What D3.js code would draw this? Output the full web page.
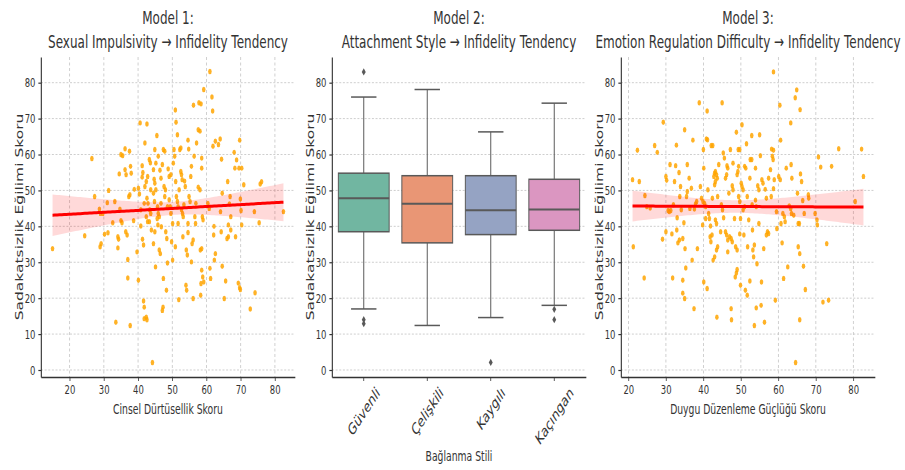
<!DOCTYPE html>
<html>
<head>
<meta charset="utf-8">
<script src="https://cdnjs.cloudflare.com/ajax/libs/d3/7.8.5/d3.min.js"></script>
<style>
	body { margin: 0; background: #fff; }
	text { font-family: 'DejaVu Sans', sans-serif; fill: #333; }
</style>
</head>
<body>
<div id="chart"></div>
<script>
// Model 1: sexual impulsivity score vs infidelity tendency score
const model1Points = [
	[15.0,33.8],[24.4,37.4],[26.5,58.9],[27.3,48.3],[28.7,44.8],[29.0,43.6],[29.2,35.2],[28.9,34.3],[29.7,43.6],[30.2,37.8],
	[31.2,38.2],[31.0,46.6],[31.4,50.0],[32.6,41.0],[33.2,46.9],[33.5,13.3],[34.1,37.1],[34.3,36.4],[34.1,34.0],[34.5,54.6],
	[34.7,44.8],[35.0,60.0],[35.5,59.7],[35.0,41.6],[35.3,41.0],[36.2,61.6],[36.5,54.4],[36.2,55.8],[36.4,38.5],[36.8,37.6],
	[37.0,30.8],[37.0,25.6],[37.3,48.3],[37.6,48.8],[37.5,60.9],[37.7,12.4],[37.8,56.7],[38.0,54.8],[38.7,41.6],[38.9,50.3],
	[39.7,32.9],[40.1,25.0],[40.1,50.6],[40.4,49.0],[40.6,68.8],[40.8,40.1],[41.2,56.9],[41.4,55.0],[41.2,53.7],[41.3,36.4],
	[41.6,34.8],[41.6,19.2],[41.8,17.5],[41.8,14.3],[42.4,14.7],[42.6,14.0],[42.0,63.2],[42.6,68.5],[42.0,51.1],[42.4,52.5],
	[42.8,53.9],[42.6,47.8],[42.9,46.4],[42.4,42.7],[42.8,41.3],[43.3,58.6],[43.6,57.7],[43.4,44.6],[43.7,43.6],[43.9,39.0],
	[44.2,2.1],[44.5,35.2],[44.7,53.1],[44.9,52.0],[45.2,50.2],[44.9,38.5],[45.1,28.7],[44.9,61.4],[45.2,57.6],[45.5,65.3],
	[45.7,45.5],[45.9,43.6],[46.2,42.7],[46.2,33.4],[46.5,32.4],[46.4,55.6],[46.7,53.4],[46.8,39.9],[47.1,16.6],[47.3,17.5],
	[47.4,61.4],[47.8,60.9],[47.4,25.5],[47.6,51.1],[48.0,50.2],[47.8,48.3],[48.1,38.5],[48.4,36.6],[48.3,22.2],[48.6,29.8],
	[48.8,56.0],[49.1,53.9],[49.1,47.4],[49.4,45.5],[49.8,35.7],[50.1,30.6],[50.3,57.6],[50.7,59.5],[50.5,61.4],[50.9,72.4],
	[51.1,69.0],[51.2,48.3],[51.5,46.9],[51.7,45.5],[50.9,34.3],[51.7,40.8],[51.9,19.6],[52.2,61.4],[52.5,61.8],[52.5,55.3],
	[52.7,54.4],[52.9,53.0],[52.7,44.6],[53.0,43.6],[53.2,42.7],[53.1,37.1],[53.6,52.6],[53.8,51.1],[54.0,23.6],[54.2,22.2],
	[54.1,33.4],[54.4,32.0],[54.6,64.0],[54.8,61.5],[54.9,48.3],[55.2,46.9],[55.4,53.9],[55.6,56.7],[55.6,30.1],[55.8,35.2],
	[56.1,36.2],[56.1,19.9],[56.2,73.7],[56.4,59.5],[56.6,42.7],[56.8,40.8],[56.9,46.4],[57.1,63.2],[57.6,66.9],[58.1,66.5],
	[57.6,50.9],[58.1,50.2],[57.8,74.4],[58.4,74.1],[58.2,33.4],[58.6,33.8],[58.4,24.1],[58.3,20.8],[58.6,59.0],[58.6,27.8],
	[58.9,25.9],[58.6,56.2],[58.8,42.7],[59.0,41.8],[59.2,78.1],[59.2,24.5],[60.4,46.4],[60.8,45.0],[61.0,83.1],[61.0,28.3],
	[61.2,25.5],[61.6,76.0],[61.8,72.1],[61.9,62.3],[62.1,37.6],[62.2,40.0],[62.3,30.6],[62.6,32.4],[62.6,63.7],[63.5,62.8],
	[64.0,64.3],[64.1,44.1],[64.3,38.5],[64.4,58.7],[64.6,28.9],[64.6,49.2],[65.2,19.9],[65.6,24.8],[66.0,36.6],[66.4,37.1],
	[66.2,52.5],[66.4,40.4],[66.7,46.2],[66.9,48.3],[67.1,39.0],[67.1,42.7],[68.1,60.6],[68.3,56.2],[68.5,37.1],[68.8,58.5],
	[69.3,24.2],[69.7,22.9],[69.9,22.4],[69.5,56.2],[70.3,56.2],[69.7,64.0],[69.9,47.6],[70.1,44.4],[70.3,40.4],[70.9,51.6],
	[72.8,17.0],[74.0,44.1],[74.2,21.5],[75.4,41.0],[75.7,51.8],[76.1,52.4],[82.5,44.1],[44.5,49.2],[44.8,46.9],[45.6,42.2],
	[45.8,40.4],[43.3,41.3],[43.7,50.2],[46.7,46.4],[49.6,43.6],[50.1,40.8],[48.6,45.5],[53.4,46.0],[54.6,40.8],[52.0,50.2],
	[51.0,52.5],[49.6,54.4],[47.1,57.2],[44.5,55.8],[45.9,59.5],[41.8,46.4],[40.8,44.6],[54.6,38.3],[51.5,65.5]
];

// Model 3: emotion regulation difficulty score vs infidelity tendency score
const model3Points = [
	[21.1,53.0],[21.3,34.3],[22.4,61.2],[22.9,52.5],[24.2,25.6],[24.4,48.6],[24.9,45.5],[25.8,45.1],[27.0,62.5],[27.7,60.6],
	[29.1,36.4],[29.3,69.0],[30.0,53.9],[30.2,52.8],[30.0,38.5],[30.6,44.4],[30.9,44.1],[31.3,44.4],[31.1,57.2],[31.6,37.9],
	[31.8,25.6],[32.0,46.0],[32.3,52.5],[32.6,56.9],[32.8,62.6],[32.9,39.0],[33.0,42.4],[33.2,35.4],[33.6,36.2],[33.5,55.0],
	[33.7,48.3],[33.9,51.1],[34.1,44.6],[34.5,25.0],[34.5,36.6],[34.5,21.4],[35.0,19.9],[34.8,41.0],[35.0,66.9],[35.1,33.8],
	[35.3,28.4],[35.5,48.3],[35.7,49.7],[35.7,57.2],[36.2,53.4],[36.4,45.0],[36.8,50.6],[37.0,30.6],[37.2,64.0],[37.5,17.1],
	[37.6,44.8],[37.9,46.2],[38.2,46.9],[38.4,33.8],[38.9,74.4],[39.2,51.1],[39.5,47.8],[39.9,46.9],[39.8,40.4],[40.0,61.4],
	[40.1,56.2],[40.1,24.5],[40.3,46.4],[40.6,45.5],[40.6,42.2],[40.8,64.3],[41.1,64.1],[41.0,72.1],[41.0,22.7],[41.2,50.2],
	[41.4,43.6],[41.6,42.2],[41.9,40.1],[41.8,37.1],[42.0,35.7],[42.3,37.6],[42.1,62.5],[42.5,62.5],[42.4,47.8],[42.6,30.6],
	[43.0,31.5],[42.8,53.9],[43.0,54.8],[43.2,55.3],[43.5,54.4],[43.7,53.4],[43.0,51.6],[43.2,52.5],[43.2,41.8],[43.5,40.8],
	[43.5,33.4],[43.8,34.3],[43.6,14.7],[43.8,48.3],[44.1,57.2],[44.6,38.5],[44.8,46.0],[45.1,44.6],[45.0,74.4],[45.3,60.4],
	[45.6,59.0],[45.4,42.4],[45.9,38.5],[46.2,37.6],[46.5,36.2],[45.9,53.4],[46.2,54.4],[46.3,56.9],[46.5,56.2],[46.5,32.9],
	[46.8,49.2],[47.0,37.1],[47.4,36.6],[47.7,35.7],[47.2,61.4],[47.4,17.1],[47.5,14.0],[47.7,51.3],[47.9,50.2],[47.9,57.6],
	[48.3,42.2],[48.5,25.9],[48.8,27.0],[49.0,28.0],[48.6,34.3],[49.0,33.4],[48.8,66.2],[49.0,54.4],[49.2,55.3],[49.4,56.7],
	[49.3,61.4],[49.7,61.4],[49.4,48.3],[49.7,46.9],[49.7,37.9],[49.9,42.2],[49.9,23.6],[50.1,52.0],[50.3,51.1],[50.6,50.2],
	[50.3,68.3],[50.6,44.6],[51.0,45.5],[50.8,37.6],[51.0,56.7],[51.3,56.2],[51.2,22.2],[51.7,20.8],[51.5,63.0],[51.7,48.3],
	[51.8,34.3],[52.1,41.8],[52.4,53.4],[52.5,58.6],[52.9,58.6],[52.4,24.8],[52.9,65.3],[53.0,46.0],[53.1,39.0],[53.2,33.4],
	[53.4,31.5],[53.6,34.8],[53.6,12.4],[53.9,47.3],[54.1,45.5],[53.9,56.2],[54.1,17.3],[54.3,29.6],[54.5,51.3],[54.8,50.2],
	[54.8,40.8],[55.0,65.5],[55.2,59.7],[55.4,18.0],[55.5,24.5],[55.6,53.0],[55.9,52.0],[56.1,33.8],[56.3,13.3],[56.5,50.3],
	[56.8,47.8],[56.8,37.6],[57.1,38.5],[57.4,38.0],[57.4,53.4],[57.9,55.8],[58.1,48.3],[58.2,61.5],[58.7,61.2],[58.4,59.5],
	[58.6,58.6],[58.7,83.0],[58.7,50.5],[58.9,53.0],[59.2,19.4],[59.5,44.1],[59.6,39.4],[60.1,53.9],[60.5,53.0],[60.4,73.7],
	[60.6,64.0],[60.7,40.8],[61.0,35.4],[61.2,43.6],[61.6,42.7],[61.4,25.5],[61.8,41.3],[62.1,56.2],[62.5,28.7],[62.9,45.7],
	[63.3,45.0],[63.3,68.8],[63.4,57.2],[63.6,53.4],[63.5,43.6],[64.1,43.1],[64.5,75.8],[64.6,2.1],[64.9,78.0],[65.1,49.2],
	[65.3,40.8],[65.6,40.8],[65.3,34.3],[65.7,32.4],[65.7,14.0],[65.8,72.5],[65.9,54.6],[66.2,52.5],[66.5,47.2],[66.7,28.9],
	[66.9,43.6],[67.2,22.4],[68.0,48.8],[68.1,47.8],[69.8,43.6],[70.3,41.8],[70.4,40.4],[70.7,59.3],[71.3,56.5],[71.9,18.9],
	[72.9,35.2],[73.4,19.4],[74.2,56.7],[76.1,61.6],[80.5,46.9],[82.2,61.5],[82.7,53.9]
];

// Model 2: box plot summaries per attachment style
const styles = ['Güvenli', 'Çelişkili', 'Kaygılı', 'Kaçıngan'];
const styleColors = ['#71b6a1', '#e99675', '#95a3c3', '#db96c1'];
const q1 = [38.5, 35.4, 37.7, 38.9];
const medians = [47.8, 46.3, 44.5, 44.7];
const q3 = [54.8, 54.1, 54.1, 53.1];
const whiskerLow = [17.0, 12.4, 14.6, 18.0];
const whiskerHigh = [76.0, 78.1, 66.3, 74.3];
const outliers = [[83.0, 14.0, 12.9], [], [2.1], [16.9, 14.0]];

const yTicks = [0, 10, 20, 30, 40, 50, 60, 70, 80];
const xTicks = [20, 30, 40, 50, 60, 70, 80];

// the reference is squeezed horizontally, so draw wide and squash
const S = 0.66;
const vx = a => a / S;

const dimensions = {
	width: 905,
	height: 470,
	top: 57,
	bottom: 377,
	panelWidth: 254,
	lefts: [41, 332, 621]
};

const svg = d3.select('#chart')
	.append('svg')
		.attr('width', dimensions.width)
		.attr('height', dimensions.height);

const root = svg.append('g')
	.attr('transform', `scale(${S},1)`);

const allY = model1Points.map(d => d[1])
	.concat(model3Points.map(d => d[1]))
	.concat(whiskerHigh, whiskerLow, outliers.flat());
const yExt = d3.extent(allY);
const yPad = (yExt[1] - yExt[0]) * 0.05;

const yScale = d3.scaleLinear()
	.domain([yExt[0] - yPad, yExt[1] + yPad])
	.range([dimensions.bottom, dimensions.top]);

const styleAxis = g => {
	g.attr('font-family', 'DejaVu Sans')
		.attr('font-size', 12.8)
		.attr('color', '#333');
	g.selectAll('.domain').attr('stroke-width', 1.7);
	g.selectAll('.tick line').attr('stroke-width', 1.2);
	g.selectAll('.tick text').style('fill', '#333');
};

const drawTitle = (left, lines) => {
	const cx = vx(left + dimensions.panelWidth / 2);
	lines.forEach((t, i) => {
		root.append('text')
			.attr('x', cx)
			.attr('y', 24 + i * 24)
			.attr('text-anchor', 'middle')
			.style('font-size', '18.2px')
			.text(t);
	});
};

const drawYLabel = left => {
	root.append('text')
		.attr('transform', `translate(${vx(left - 22)},${(dimensions.top + dimensions.bottom) / 2}) rotate(-90)`)
		.attr('text-anchor', 'middle')
		.attr('dy', '0.35em')
		.style('font-size', '15.5px')
		.text('Sadakatsizlik Eğilimi Skoru');
};

const drawHGrid = (g, x0, x1) => {
	g.selectAll('.hgrid')
		.data(yTicks)
		.join('line')
			.attr('x1', x0)
			.attr('x2', x1)
			.attr('y1', d => yScale(d))
			.attr('y2', d => yScale(d))
			.attr('stroke', '#c4c4c4')
			.attr('stroke-width', 1)
			.attr('stroke-dasharray', '3,2.5');
};

const drawYAxis = (g, left) => {
	g.append('g')
		.attr('transform', `translate(${vx(left)},0)`)
		.call(d3.axisLeft(yScale).tickValues(yTicks).tickSize(4).tickPadding(4.5).tickSizeOuter(0))
		.call(styleAxis);
};

// fit an ordinary least squares line with a 95% band
const fitLine = points => {
	const n = points.length;
	const mx = d3.mean(points, d => d[0]);
	const my = d3.mean(points, d => d[1]);
	const sxx = d3.sum(points, d => (d[0] - mx) ** 2);
	const sxy = d3.sum(points, d => (d[0] - mx) * (d[1] - my));
	const slope = sxy / sxx;
	const intercept = my - slope * mx;
	const sse = d3.sum(points, d => (d[1] - intercept - slope * d[0]) ** 2);
	const s = Math.sqrt(sse / (n - 2));
	const [x0, x1] = d3.extent(points, d => d[0]);
	return d3.range(0, 101).map(i => {
		const x = x0 + (x1 - x0) * i / 100;
		const y = intercept + slope * x;
		const se = s * Math.sqrt(1 / n + (x - mx) ** 2 / sxx);
		return { x, y, lo: y - 1.97 * se, hi: y + 1.97 * se };
	});
};

const buildScatter = (left, points, title, xLabel) => {
	const g = root.append('g');
	const right = left + dimensions.panelWidth;
	const xExt = d3.extent(points, d => d[0]);
	const xPad = (xExt[1] - xExt[0]) * 0.05;
	const xScale = d3.scaleLinear()
		.domain([xExt[0] - xPad, xExt[1] + xPad])
		.range([vx(left), vx(right)]);

	// grid
	g.selectAll('.vgrid')
		.data(xTicks)
		.join('line')
			.attr('x1', d => xScale(d))
			.attr('x2', d => xScale(d))
			.attr('y1', dimensions.top)
			.attr('y2', dimensions.bottom)
			.attr('stroke', '#c4c4c4')
			.attr('stroke-width', 1.2)
			.attr('stroke-dasharray', '3,2.5');
	drawHGrid(g, vx(left), vx(right));

	g.append('g')
		.selectAll('circle')
		.data(points)
		.join('circle')
			.attr('cx', d => xScale(d[0]))
			.attr('cy', d => yScale(d[1]))
			.attr('r', 2.7)
			.attr('fill', '#ffa500')
			.attr('fill-opacity', 0.85);

	const fit = fitLine(points);
	g.append('path')
		.attr('d', d3.area()
			.x(d => xScale(d.x))
			.y0(d => yScale(d.lo))
			.y1(d => yScale(d.hi))(fit))
		.attr('fill', '#ff0000')
		.attr('fill-opacity', 0.15);
	g.append('path')
		.attr('d', d3.line()
			.x(d => xScale(d.x))
			.y(d => yScale(d.y))(fit))
		.attr('fill', 'none')
		.attr('stroke', '#ff0000')
		.attr('stroke-width', 3);

	drawYAxis(g, left);
	g.append('g')
		.attr('transform', `translate(0,${dimensions.bottom})`)
		.call(d3.axisBottom(xScale).tickValues(xTicks).tickSize(4).tickPadding(3.5).tickSizeOuter(0))
		.call(styleAxis);

	g.append('text')
		.attr('x', vx(left + dimensions.panelWidth / 2))
		.attr('y', 414)
		.attr('text-anchor', 'middle')
		.style('font-size', '14px')
		.text(xLabel);

	drawTitle(left, title);
	drawYLabel(left);
};

const buildBox = left => {
	const g = root.append('g');
	const right = left + dimensions.panelWidth;
	const xScale = d3.scaleBand()
		.domain(styles)
		.range([vx(left), vx(right)])
		.paddingInner(0.2)
		.paddingOuter(0.1);
	const bw = xScale.bandwidth();
	const gray = '#595959';

	drawHGrid(g, vx(left), vx(right));

	styles.forEach((c, i) => {
		const cx = xScale(c) + bw / 2;
		const bg = g.append('g');
		bg.append('line')
			.attr('x1', cx).attr('x2', cx)
			.attr('y1', yScale(q3[i])).attr('y2', yScale(whiskerHigh[i]))
			.attr('stroke', gray).attr('stroke-width', 1.5);
		bg.append('line')
			.attr('x1', cx).attr('x2', cx)
			.attr('y1', yScale(q1[i])).attr('y2', yScale(whiskerLow[i]))
			.attr('stroke', gray).attr('stroke-width', 1.5);
		[whiskerHigh[i], whiskerLow[i]].forEach(v => {
			bg.append('line')
				.attr('x1', cx - bw / 4).attr('x2', cx + bw / 4)
				.attr('y1', yScale(v)).attr('y2', yScale(v))
				.attr('stroke', gray).attr('stroke-width', 1.5);
		});
		bg.append('rect')
			.attr('x', xScale(c))
			.attr('width', bw)
			.attr('y', yScale(q3[i]))
			.attr('height', yScale(q1[i]) - yScale(q3[i]))
			.attr('fill', styleColors[i])
			.attr('stroke', gray)
			.attr('stroke-width', 1.5);
		bg.append('line')
			.attr('x1', xScale(c)).attr('x2', xScale(c) + bw)
			.attr('y1', yScale(medians[i])).attr('y2', yScale(medians[i]))
			.attr('stroke', gray).attr('stroke-width', 2);
		bg.selectAll('.flier')
			.data(outliers[i])
			.join('path')
				.attr('d', v => {
					const y = yScale(v);
					return `M${cx},${y - 3.6}L${cx + 3},${y}L${cx},${y + 3.6}L${cx - 3},${y}Z`;
				})
				.attr('fill', gray);
	});

	drawYAxis(g, left);
	const xAxis = g.append('g')
		.attr('transform', `translate(0,${dimensions.bottom})`)
		.call(d3.axisBottom(xScale).tickSize(4).tickSizeOuter(0))
		.call(styleAxis);

	// rotated category labels, bbox centred on the tick
	xAxis.selectAll('.tick text').each(function () {
		const t = d3.select(this);
		t.attr('y', null).attr('dy', null)
			.style('font-size', '16px')
			.attr('text-anchor', 'middle')
			.attr('dominant-baseline', 'central');
		const b = this.getBBox();
		const h = (b.width + b.height) * Math.SQRT1_2;
		t.attr('transform', `translate(0,${6 + h / 2}) rotate(-45)`);
	});

	g.append('text')
		.attr('x', vx(left + dimensions.panelWidth / 2))
		.attr('y', 461)
		.attr('text-anchor', 'middle')
		.style('font-size', '14px')
		.text('Bağlanma Stili');

	drawTitle(left, ['Model 2:', 'Attachment Style → Infidelity Tendency']);
	drawYLabel(left);
};

buildScatter(dimensions.lefts[0], model1Points,
	['Model 1:', 'Sexual Impulsivity → Infidelity Tendency'], 'Cinsel Dürtüsellik Skoru');
buildBox(dimensions.lefts[1]);
buildScatter(dimensions.lefts[2], model3Points,
	['Model 3:', 'Emotion Regulation Difficulty → Infidelity Tendency'], 'Duygu Düzenleme Güçlüğü Skoru');
</script>
</body>
</html>
